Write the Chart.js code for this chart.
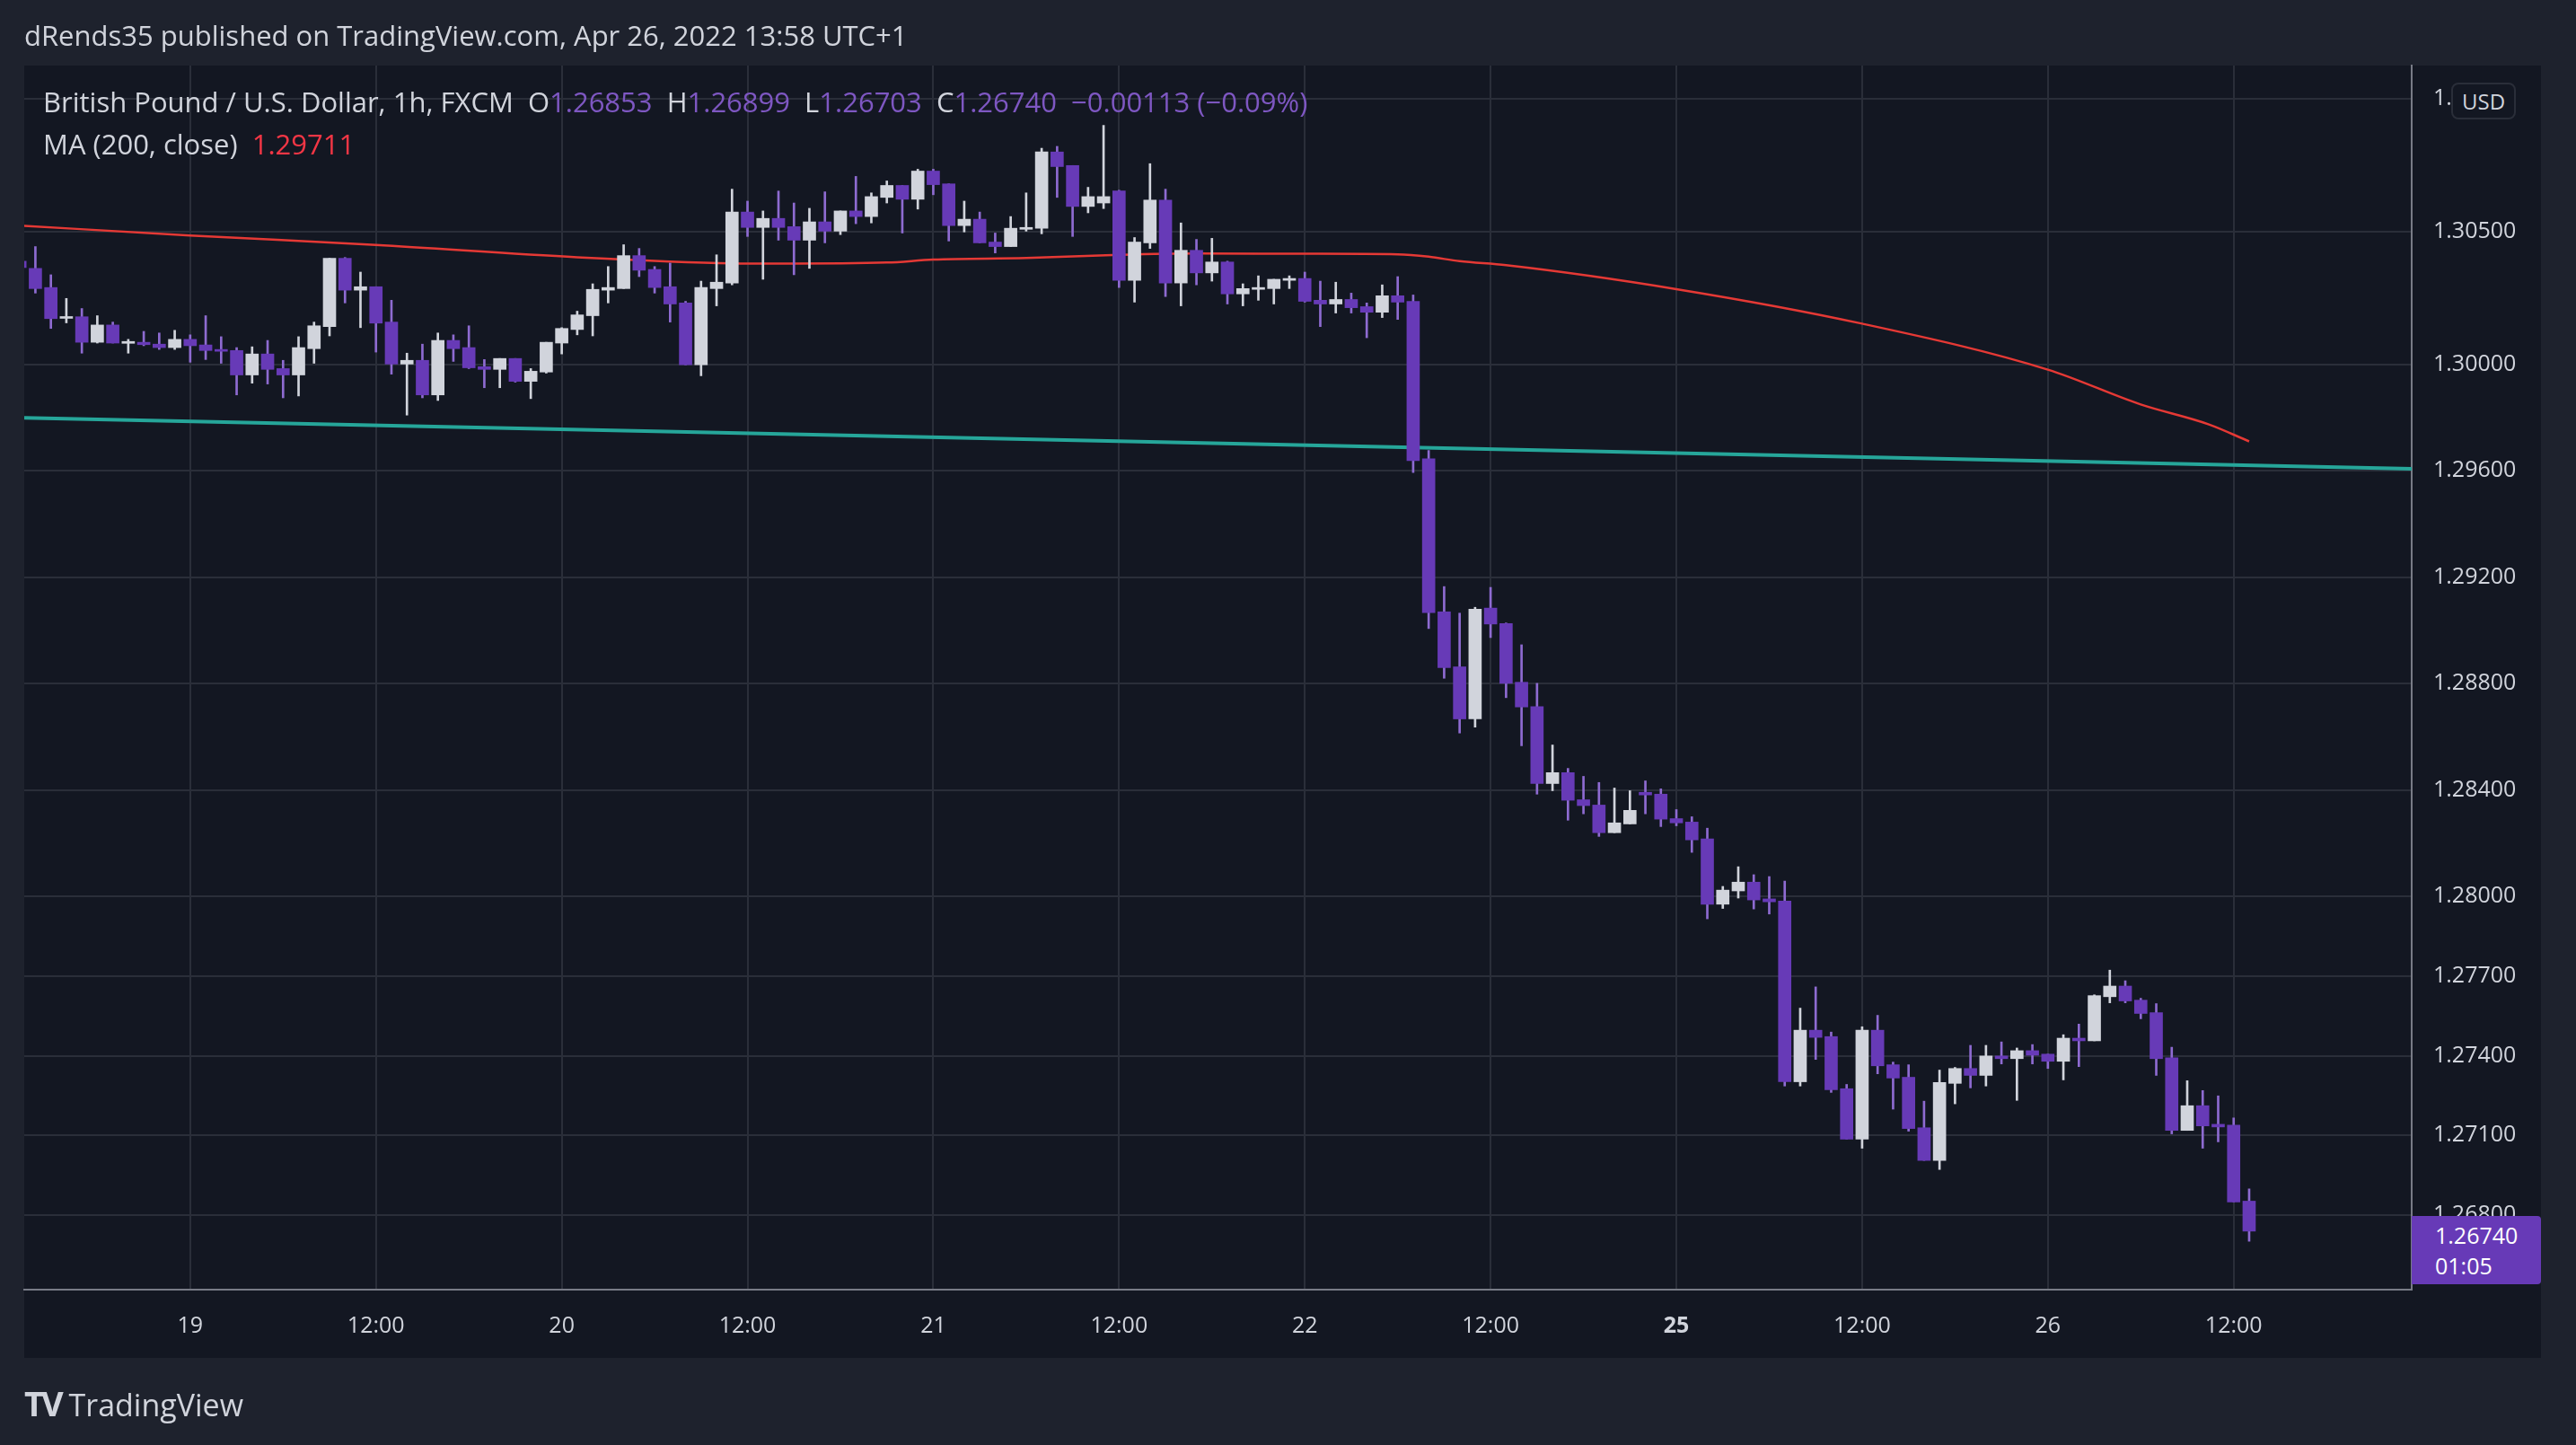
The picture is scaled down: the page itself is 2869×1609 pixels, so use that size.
<!DOCTYPE html>
<html><head><meta charset="utf-8">
<script src="https://cdn.jsdelivr.net/npm/chart.js@4"></script>
<style>
html,body{margin:0;padding:0;background:#1e222d;overflow:hidden;font-family:"Open Sans",sans-serif;}
#panel{position:absolute;left:27px;top:73px;width:2803px;height:1439px;background:#131722;z-index:0;}
#c{position:absolute;left:0;top:0;z-index:1;}
.t{position:absolute;white-space:pre;color:#d1d4dc;z-index:2;}
</style></head><body>
<div id="panel"></div>
<canvas id="c"></canvas>
<div class="t" style="left:27px;top:18px;font-size:31px;">dRends35 published on TradingView.com, Apr 26, 2022 13:58 UTC+1</div>
<div class="t" style="left:48px;top:92px;font-size:31px;">British Pound / U.S. Dollar, 1h, FXCM  O<span style="color:#7e57c2">1.26853</span>  H<span style="color:#7e57c2">1.26899</span>  L<span style="color:#7e57c2">1.26703</span>  C<span style="color:#7e57c2">1.26740</span>  <span style="color:#7e57c2">−0.00113 (−0.09%)</span></div>
<div class="t" style="left:48px;top:139px;font-size:31px;">MA (200, close)  <span style="color:#f23645">1.29711</span></div>
<div class="t" style="left:2730px;top:92px;font-size:24px;padding:2px 10px;border:2px solid #2a2e39;border-radius:8px;background:#131722;">USD</div>
<div class="t" style="left:2686px;top:1354px;width:144px;height:76px;background:#673ab7;border-radius:0 4px 4px 0;font-size:25px;line-height:34px;padding-left:26px;box-sizing:border-box;padding-top:4px;color:#fff;">1.26740<br>01:05</div>
<div class="t" style="left:27px;top:1536px;font-size:34px;"><b style="font-size:38px;letter-spacing:-3px;">TV</b> TradingView</div>
<script>
const xTickIdx=[11,23,35,47,59,71,83,95,107,119,131,143];
const xTickLabels=['19','12:00','20','12:00','21','12:00','22','12:00','25','12:00','26','12:00'];
const yTicks=[1.268,1.271,1.274,1.277,1.280,1.284,1.288,1.292,1.296,1.300,1.305,1.310];
const opens=[1.30389,1.30362,1.30290,1.30174,1.30180,1.30084,1.30149,1.30080,1.30084,1.30077,1.30064,1.30095,1.30074,1.30057,1.30053,1.29961,1.30040,1.29985,1.29961,1.30060,1.30143,1.30400,1.30280,1.30293,1.30160,1.30002,1.30016,1.29886,1.30091,1.30064,1.29992,1.29982,1.30023,1.29937,1.29972,1.30081,1.30132,1.30184,1.30280,1.30286,1.30410,1.30358,1.30293,1.30232,1.29999,1.30286,1.30307,1.30574,1.30516,1.30550,1.30519,1.30468,1.30537,1.30502,1.30578,1.30557,1.30629,1.30674,1.30622,1.30728,1.30680,1.30523,1.30547,1.30461,1.30444,1.30509,1.30513,1.30800,1.30749,1.30595,1.30608,1.30653,1.30317,1.30458,1.30619,1.30307,1.30430,1.30345,1.30386,1.30266,1.30283,1.30286,1.30317,1.30324,1.30242,1.30228,1.30245,1.30218,1.30197,1.30259,1.30238,1.29646,1.29070,1.28863,1.28667,1.29084,1.29026,1.28805,1.28713,1.28424,1.28465,1.28363,1.28343,1.28239,1.28272,1.28391,1.28384,1.28292,1.28279,1.28216,1.27970,1.28020,1.28053,1.27990,1.27982,1.27302,1.27496,1.27472,1.27276,1.27086,1.27496,1.27366,1.27319,1.27129,1.27006,1.27296,1.27352,1.27326,1.27399,1.27389,1.27419,1.27406,1.27379,1.27466,1.27456,1.27622,1.27662,1.27609,1.27562,1.27392,1.27119,1.27212,1.27142,1.27139,1.26853];
const highs=[1.30420,1.30444,1.30338,1.30249,1.30211,1.30184,1.30160,1.30095,1.30125,1.30119,1.30129,1.30112,1.30184,1.30105,1.30064,1.30067,1.30091,1.30016,1.30105,1.30160,1.30400,1.30403,1.30348,1.30293,1.30242,1.30043,1.30077,1.30119,1.30112,1.30146,1.30019,1.30023,1.30023,1.29985,1.30084,1.30139,1.30201,1.30304,1.30369,1.30451,1.30437,1.30369,1.30382,1.30238,1.30314,1.30413,1.30660,1.30615,1.30578,1.30653,1.30608,1.30588,1.30650,1.30578,1.30708,1.30646,1.30691,1.30674,1.30735,1.30735,1.30680,1.30615,1.30574,1.30495,1.30557,1.30646,1.30814,1.30821,1.30749,1.30667,1.30900,1.30656,1.30478,1.30756,1.30660,1.30533,1.30471,1.30475,1.30389,1.30304,1.30334,1.30321,1.30334,1.30348,1.30314,1.30310,1.30269,1.30232,1.30300,1.30331,1.30262,1.29677,1.29165,1.29065,1.29087,1.29162,1.29028,1.28946,1.28801,1.28569,1.28481,1.28451,1.28428,1.28407,1.28397,1.28434,1.28404,1.28326,1.28299,1.28256,1.28037,1.28111,1.28081,1.28074,1.28057,1.27579,1.27659,1.27489,1.27292,1.27509,1.27552,1.27376,1.27366,1.27229,1.27346,1.27356,1.27439,1.27439,1.27452,1.27429,1.27442,1.27406,1.27479,1.27519,1.27629,1.27722,1.27682,1.27616,1.27596,1.27432,1.27306,1.27269,1.27249,1.27166,1.26899];
const lows=[1.30340,1.30269,1.30136,1.30157,1.30043,1.30081,1.30081,1.30043,1.30071,1.30057,1.30057,1.30009,1.30019,1.30005,1.29886,1.29930,1.29927,1.29875,1.29882,1.30005,1.30108,1.30232,1.30139,1.30047,1.29964,1.29810,1.29875,1.29865,1.30012,1.29985,1.29913,1.29913,1.29934,1.29872,1.29968,1.30040,1.30112,1.30108,1.30232,1.30286,1.30331,1.30269,1.30160,1.29999,1.29958,1.30221,1.30300,1.30482,1.30321,1.30468,1.30338,1.30362,1.30458,1.30489,1.30530,1.30533,1.30608,1.30495,1.30585,1.30639,1.30465,1.30499,1.30458,1.30420,1.30444,1.30502,1.30492,1.30629,1.30482,1.30571,1.30587,1.30290,1.30235,1.30437,1.30256,1.30221,1.30300,1.30314,1.30228,1.30221,1.30242,1.30228,1.30286,1.30235,1.30143,1.30194,1.30194,1.30101,1.30177,1.30170,1.29594,1.29007,1.28820,1.28614,1.28636,1.28973,1.28747,1.28566,1.28384,1.28397,1.28286,1.28310,1.28225,1.28239,1.28272,1.28310,1.28262,1.28265,1.28165,1.27915,1.27954,1.27993,1.27952,1.27933,1.27286,1.27286,1.27386,1.27262,1.27086,1.27052,1.27332,1.27199,1.27116,1.27006,1.26972,1.27219,1.27279,1.27286,1.27369,1.27232,1.27369,1.27352,1.27309,1.27359,1.27456,1.27599,1.27599,1.27539,1.27326,1.27106,1.27119,1.27052,1.27076,1.26850,1.26702];
const closes=[1.30365,1.30286,1.30173,1.30180,1.30084,1.30149,1.30081,1.30087,1.30075,1.30064,1.30095,1.30071,1.30053,1.30050,1.29961,1.30040,1.29982,1.29961,1.30064,1.30146,1.30400,1.30280,1.30293,1.30156,1.30002,1.30016,1.29886,1.30091,1.30060,1.29988,1.29982,1.30023,1.29937,1.29975,1.30084,1.30136,1.30187,1.30283,1.30290,1.30410,1.30355,1.30290,1.30228,1.29999,1.30290,1.30310,1.30574,1.30516,1.30550,1.30516,1.30468,1.30537,1.30502,1.30578,1.30557,1.30632,1.30674,1.30622,1.30728,1.30677,1.30523,1.30547,1.30458,1.30444,1.30513,1.30516,1.30800,1.30745,1.30595,1.30632,1.30632,1.30317,1.30461,1.30619,1.30307,1.30430,1.30345,1.30386,1.30266,1.30286,1.30290,1.30321,1.30324,1.30238,1.30228,1.30245,1.30214,1.30197,1.30259,1.30235,1.29639,1.29067,1.28860,1.28667,1.29080,1.29024,1.28801,1.28712,1.28424,1.28465,1.28361,1.28341,1.28239,1.28276,1.28323,1.28381,1.28290,1.28276,1.28212,1.27970,1.28023,1.28053,1.27986,1.27979,1.27302,1.27496,1.27469,1.27272,1.27086,1.27496,1.27362,1.27316,1.27126,1.27006,1.27299,1.27352,1.27326,1.27399,1.27389,1.27419,1.27402,1.27379,1.27466,1.27456,1.27626,1.27662,1.27606,1.27559,1.27389,1.27119,1.27212,1.27136,1.27132,1.26850,1.26740];
const maIdx=[0,11,23,36,46,49,56,59,65,71,76,83,89,91,93,96,107,119,131,137,141.4,144];
const maVal=[1.30523,1.30486,1.30450,1.30404,1.30381,1.30380,1.30384,1.30395,1.30401,1.30413,1.30418,1.30417,1.30415,1.30406,1.30389,1.30374,1.30284,1.30154,1.29981,1.29850,1.29775,1.29711];
const trendIdx=[0.28,154.5];
const trendVal=[1.29800,1.29608];

const UP='#d1d4dc',DOWN='#673ab7',DOWNW='#8e6bd1';
const wickData=highs.map((h,i)=>({x:i,y:[lows[i],h]}));
const bodyData=opens.map((o,i)=>({x:i,y:[Math.min(o,closes[i]),Math.max(o,closes[i])]}));
const isUp=opens.map((o,i)=>closes[i]>=o);
const c=document.getElementById('c');
c.width=2869;c.height=1609;
new Chart(c,{
  type:'bar',
  data:{datasets:[
    {type:'line',data:trendIdx.map((x,i)=>({x,y:trendVal[i]})),borderColor:'#26a69a',borderWidth:4,pointRadius:0,order:3},
    {type:'line',data:maIdx.map((x,i)=>({x,y:maVal[i]})),borderColor:'#e53935',borderWidth:2.5,pointRadius:0,cubicInterpolationMode:'monotone',order:2},
    {data:wickData,backgroundColor:isUp.map(u=>u?UP:DOWNW),barThickness:2,grouped:false,borderWidth:0,order:1},
    {data:bodyData,backgroundColor:isUp.map(u=>u?UP:DOWN),barThickness:14,minBarLength:2,grouped:false,borderWidth:0,order:0}
  ]},
  options:{
    responsive:false,animation:false,devicePixelRatio:1,
    layout:{padding:{left:27,top:73,right:39,bottom:97}},
    plugins:{legend:{display:false},tooltip:{enabled:false}},
    scales:{
      x:{type:'linear',min:0.28,max:154.5,offset:false,
        afterBuildTicks:s=>{s.ticks=xTickIdx.map(v=>({value:v}));},
        afterFit:s=>{s.height=76;},
        grid:{color:'#2a2e39',lineWidth:2,drawTicks:false,offset:false},
        border:{color:'#787b86',width:2},
        ticks:{color:'#d1d4dc',padding:26,maxRotation:0,autoSkip:false,
          font:ctx=>({family:'Open Sans',size:25,weight:(ctx.tick&&ctx.tick.value===107)?'bold':'normal'}),
          callback:v=>{const k=xTickIdx.indexOf(v);return k>=0?xTickLabels[k]:'';}}},
      y:{position:'right',min:1.2652,max:1.31125,
        afterBuildTicks:s=>{s.ticks=yTicks.map(v=>({value:v}));},
        afterFit:s=>{s.width=144;},
        grid:{color:'#2a2e39',lineWidth:2,drawTicks:false},
        border:{color:'#787b86',width:2},
        ticks:{color:'#d1d4dc',padding:24,font:{family:'Open Sans',size:25},callback:v=>v.toFixed(5)}}
    }
  }
});
</script>
</body></html>
